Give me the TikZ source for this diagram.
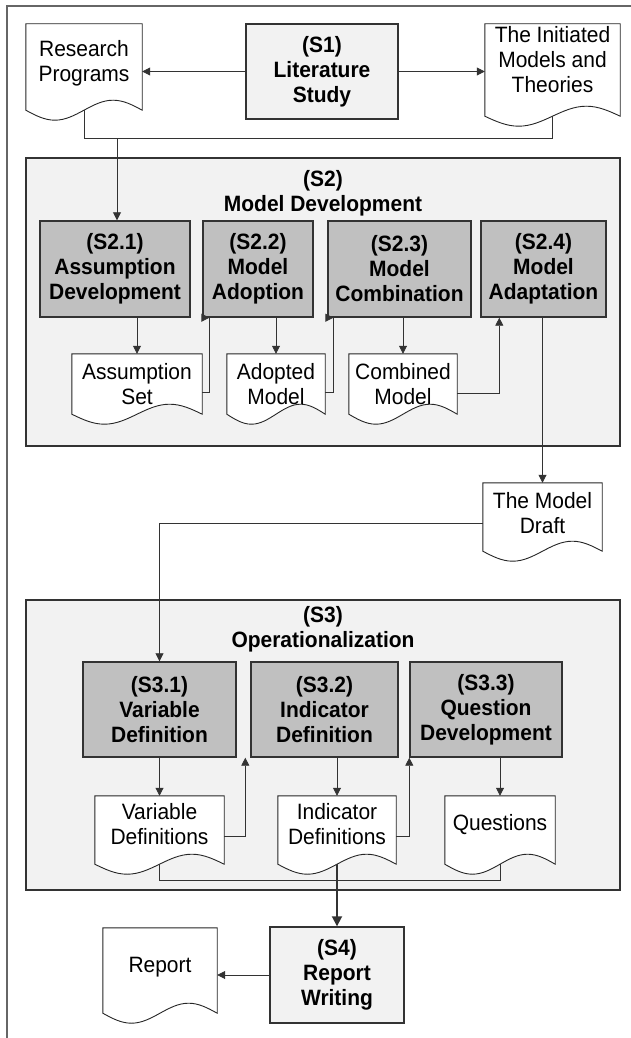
\documentclass[tikz,border=0pt]{standalone}
\usepackage{fontspec}
\setmainfont[FakeStretch=0.945]{Liberation Sans}
\usetikzlibrary{arrows.meta,calc}

\definecolor{lightbox}{HTML}{F2F2F2}
\definecolor{subbox}{HTML}{C0C0C0}
\definecolor{edge}{HTML}{333333}

\pgfdeclarelayer{back}
\pgfdeclarelayer{paper}
\pgfsetlayers{back,paper,main}

% wave depth of the document symbol
\newcommand{\docamp}{10}
% outline of a document symbol round node #1, wave line #2 below its south side
\newcommand{\docframe}[2]{%
  \coordinate (#1 base) at ($(#1.south)+(0,#2)$);
  \begin{pgfonlayer}{paper}
    \draw[docline] ($(#1.south west)+(0,#2)$) -- (#1.north west) -- (#1.north east) -- ($(#1.south east)+(0,#2)$)
      sin ($(#1.south east)!.25!(#1.south west)+(0,#2-\docamp)$)
      cos (#1 base)
      sin ($(#1.south east)!.75!(#1.south west)+(0,#2+\docamp)$)
      cos ($(#1.south west)+(0,#2)$) -- cycle;
  \end{pgfonlayer}}

\begin{document}
\begin{tikzpicture}[x=1pt, y=-1pt,
    every node/.style={font=\fontsize{22.2}{25}\selectfont, align=center, inner sep=0pt},
    stage/.style={rectangle, draw=edge, line width=1.4pt, fill=lightbox, font=\fontsize{22.2}{25}\selectfont\bfseries},
    substage/.style={stage, fill=subbox},
    doc/.style={rectangle},
    docline/.style={draw=black!85, line width=0.9pt, fill=white},
    group/.style={rectangle, draw=edge, line width=1.4pt, fill=lightbox},
    grouptitle/.style={font=\fontsize{22.2}{24.5}\selectfont\bfseries},
    link/.style={draw=edge, line width=0.8pt},
    arr/.style={link, -{Triangle[length=8pt,width=8pt]}},
  ]
  \useasboundingbox (0,0) rectangle (631,1038);
  \draw[line width=1.5pt, draw=black!60] (7,1038) -- (7,6) -- (631,6);

  % groups
  \begin{pgfonlayer}{back}
    \node[group, minimum width=594pt, minimum height=288pt] at (323,302) (s2) {};
    \node[group, minimum width=594pt, minimum height=290pt] at (323,745) (s3) {};
  \end{pgfonlayer}
  \node[grouptitle] at (323,193.5) (s2t) {(S2)\\Model Development};
  \node[grouptitle] at (323,629.5) (s3t) {(S3)\\Operationalization};

  % stages
  \node[stage, minimum width=152pt, minimum height=95pt] at (322,71.5) (s1) {(S1)\\Literature\\Study};
  \node[substage, minimum width=150pt, minimum height=96pt] at (115,269) (s21) {(S2.1)\\Assumption\\Development};
  \node[substage, minimum width=110pt, minimum height=96pt] at (258,269) (s22) {(S2.2)\\Model\\Adoption};
  \node[substage, minimum width=143pt, minimum height=96pt] at (399.5,269) (s23) {(S2.3)\\Model\\Combination};
  \node[substage, minimum width=125pt, minimum height=96pt] at (543.5,269) (s24) {(S2.4)\\Model\\Adaptation};
  \node[substage, minimum width=153pt, minimum height=95pt] at (159.5,709.5) (s31) {(S3.1)\\Variable\\Definition};
  \node[substage, minimum width=147pt, minimum height=95pt] at (324.5,709.5) (s32) {(S3.2)\\Indicator\\Definition};
  \node[substage, minimum width=152pt, minimum height=95pt] at (486,709.5) (s33) {(S3.3)\\Question\\Development};
  \node[stage, minimum width=134pt, minimum height=96pt] at (337,975) (s4) {(S4)\\Report\\Writing};

  % documents
  \node[doc, minimum width=116pt, minimum height=78pt] at (84,63) (rp) {Research\\Programs};
  \node[doc, minimum width=135pt, minimum height=72pt] at (552.5,60) (imt) {The Initiated\\Models and\\Theories};
  \node[doc, minimum width=130pt, minimum height=61pt] at (137,384.5) (asm) {Assumption\\Set};
  \node[doc, minimum width=98pt, minimum height=61pt] at (276,384.5) (adm) {Adopted\\Model};
  \node[doc, minimum width=108pt, minimum height=61pt] at (403,384.5) (cmb) {Combined\\Model};
  \node[doc, minimum width=119pt, minimum height=60pt] at (542.5,513) (mdl) {The Model\\Draft};
  \node[doc, minimum width=129pt, minimum height=57pt] at (159.5,824.5) (var) {Variable\\Definitions};
  \node[doc, minimum width=118pt, minimum height=57pt] at (337,824.5) (ind) {Indicator\\Definitions};
  \node[doc, minimum width=110pt, minimum height=57pt] at (500,824.5) (qst) {Questions};
  \node[doc, minimum width=114pt, minimum height=78pt] at (160,967) (rpt) {Report};
  \docframe{rp}{8}
  \docframe{imt}{20}
  \docframe{asm}{-1}
  \docframe{adm}{-1}
  \docframe{cmb}{-1}
  \docframe{mdl}{8}
  \docframe{var}{11}
  \docframe{ind}{11}
  \docframe{qst}{11}
  \docframe{rpt}{7}

  % S1
  \draw[arr] (s1.west) -- (s1.west -| rp.east);
  \draw[arr] (s1.east) -- (s1.east -| imt.west);
  \draw[link] (rp base) -- ++(0,28) -| (imt base);
  \coordinate (j1) at (117,138);
  \draw[arr] (j1) -- (j1 |- s21.north);

  % S2
  \draw[arr] (asm.north |- s21.south) -- (asm.north);
  \draw[arr] ([yshift=-8pt]asm.east) -| ([xshift=7pt]s22.south west) -- ++(0.1,0);
  \draw[arr] (adm.north |- s22.south) -- (adm.north);
  \draw[arr] ([yshift=-8pt]adm.east) -| ([xshift=6pt]s23.south west) -- ++(0.1,0);
  \draw[arr] (cmb.north |- s23.south) -- (cmb.north);
  \draw[arr] ([yshift=-9pt]cmb.east) -| ([xshift=19pt]s24.south west);
  \draw[arr] (mdl.north |- s24.south) -- (mdl.north);

  % S3
  \draw[arr] ([yshift=-10pt]mdl.west) -| (s31.north);
  \draw[arr] (var.north |- s31.south) -- (var.north);
  \draw[arr] ([yshift=-11.5pt]var.east) -| ([xshift=-5pt]s32.south west);
  \draw[arr] (ind.north |- s32.south) -- (ind.north);
  \draw[arr] ([yshift=-11.5pt]ind.east) -| (s33.south west);
  \draw[arr] (qst.north |- s33.south) -- (qst.north);
  \draw[link] (var base) -- ++(0,16) -| (qst base);

  % S4
  \draw[arr, line width=1.8pt, -{Triangle[length=10pt,width=10pt]}] (ind base) -- (s4.north);
  \draw[arr] (s4.west) -- (s4.west -| rpt.east);
\end{tikzpicture}
\end{document}
